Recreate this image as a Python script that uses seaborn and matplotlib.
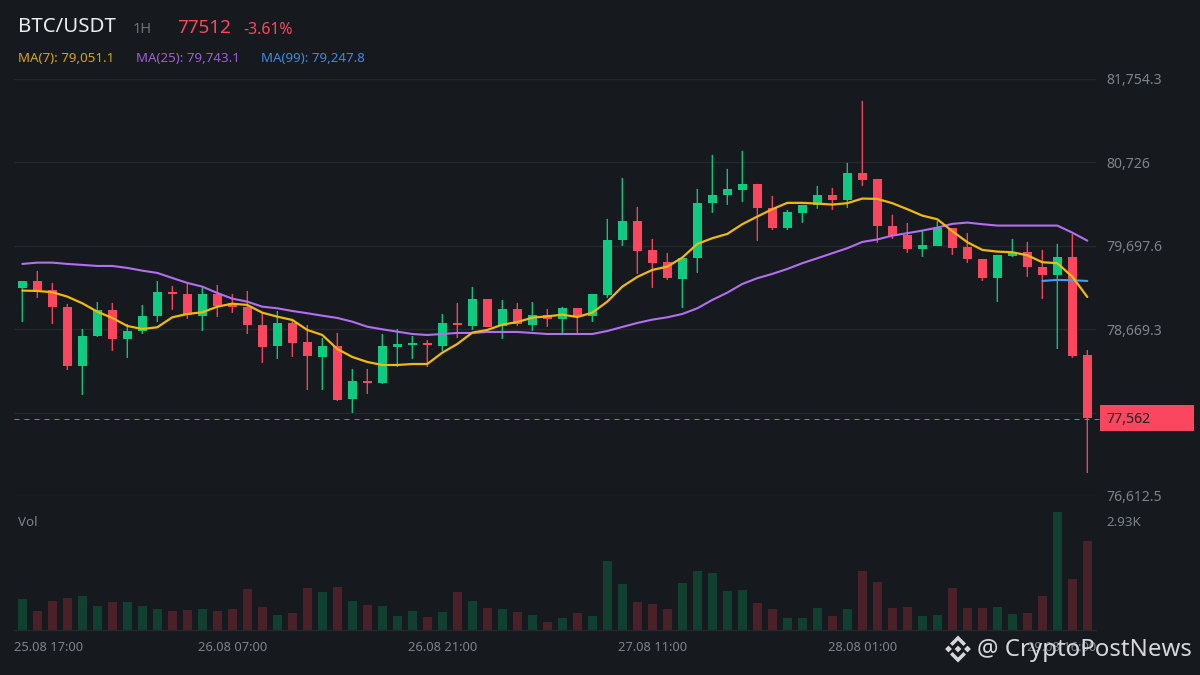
import numpy as np
import pandas as pd
import seaborn as sns
import matplotlib.pyplot as plt
from matplotlib.patches import Polygon
from matplotlib.transforms import ScaledTranslation

# candles, one per hour
opens = [79178, 79264, 79153, 78944, 78216, 78586, 78907, 78549, 78647, 78833, 79129, 79104,
         78833, 79104, 78993, 78944, 78721, 78462, 78746, 78512, 78327, 78462, 77809, 78031,
         78006, 78450, 78475, 78500, 78462, 78746, 78709, 79042, 78709, 78919, 78721, 78845,
         78796, 78931, 78833, 79092, 79770, 80004, 79647, 79499, 79289, 79548, 80227, 80325,
         80387, 80461, 80165, 79918, 80103, 80202, 80325, 80264, 80597, 80523, 79943, 79832,
         79659, 79696, 79918, 79684, 79536, 79301, 79573, 79622, 79437, 79338, 79560, 78352]
highs = [79264, 79388, 79240, 78981, 78672, 79005, 78993, 78734, 78968, 79264, 79203, 79227,
         79178, 79215, 79104, 79141, 78870, 78894, 78796, 78721, 78561, 78623, 78179, 78179,
         78610, 78672, 78586, 78536, 78857, 78993, 79190, 79042, 79030, 78993, 79005, 78919,
         78944, 78931, 79104, 80029, 80535, 80177, 79782, 79610, 79548, 80399, 80819, 80646,
         80868, 80461, 80313, 80140, 80202, 80436, 80412, 80720, 81485, 80523, 80079, 79980,
         79893, 80004, 79918, 79856, 79536, 79585, 79782, 79745, 79647, 79721, 79844, 78413]
lows = [78758, 79055, 78734, 78166, 77858, 78574, 78401, 78314, 78610, 78758, 78907, 78796,
        78647, 78820, 78870, 78610, 78253, 78302, 78327, 77920, 77920, 77784, 77636, 77870,
        77994, 78203, 78302, 78203, 78401, 78561, 78660, 78697, 78549, 78709, 78647, 78697,
        78623, 78623, 78758, 79055, 79696, 79351, 79178, 79277, 78931, 79363, 80103, 80202,
        80239, 79758, 79893, 79893, 79980, 80153, 80140, 80165, 80436, 79733, 79782, 79610,
        79560, 79696, 79585, 79486, 79264, 79005, 79560, 79314, 79042, 78425, 78314, 76896]
closes = [79264, 79153, 78944, 78216, 78586, 78907, 78549, 78647, 78833, 79129, 79104, 78845,
          79104, 78956, 78944, 78721, 78450, 78746, 78500, 78339, 78462, 77796, 78031, 78006,
          78462, 78487, 78500, 78475, 78746, 78721, 79042, 78697, 78919, 78734, 78845, 78796,
          78931, 78833, 79104, 79770, 80004, 79634, 79486, 79301, 79548, 80227, 80325, 80399,
          80461, 80165, 79918, 80116, 80202, 80325, 80264, 80597, 80510, 79943, 79819, 79659,
          79708, 79918, 79671, 79536, 79301, 79585, 79622, 79437, 79338, 79560, 78339, 77574]

ma7 = [79145, 79141, 79125, 79071, 78989, 78885, 78808, 78709, 78672, 78693, 78816, 78857,
       78878, 78947, 78984, 78968, 78873, 78824, 78783, 78660, 78598, 78425, 78327, 78265,
       78228, 78228, 78240, 78240, 78380, 78487, 78627, 78660, 78725, 78758, 78811, 78828,
       78848, 78820, 78873, 79009, 79194, 79314, 79400, 79441, 79552, 79721, 79791, 79844,
       79964, 80058, 80149, 80227, 80227, 80218, 80206, 80223, 80280, 80276, 80223, 80149,
       80070, 80025, 79878, 79742, 79647, 79626, 79618, 79581, 79495, 79483, 79317, 79067]
ma25 = [79474, 79490, 79490, 79474, 79462, 79449, 79449, 79425, 79391, 79363, 79301, 79240,
        79194, 79116, 79046, 79009, 78947, 78927, 78894, 78866, 78836, 78808, 78762, 78700,
        78668, 78639, 78610, 78598, 78610, 78623, 78623, 78635, 78635, 78635, 78623, 78610,
        78610, 78610, 78610, 78647, 78697, 78746, 78787, 78816, 78857, 78927, 79030, 79120,
        79227, 79298, 79351, 79412, 79483, 79544, 79606, 79668, 79745, 79776, 79823, 79853,
        79885, 79922, 79968, 79984, 79964, 79947, 79947, 79947, 79947, 79947, 79860, 79761]
ma99 = [79264, 79277, 79273, 79264]

volumes = [845, 521, 791, 872, 926, 656, 764, 764, 656, 575, 521, 548,
           575, 521, 575, 1115, 629, 413, 467, 1142, 1034, 1169, 791, 683,
           656, 386, 521, 359, 494, 1034, 791, 602, 575, 494, 413, 224,
           332, 467, 386, 1871, 1250, 764, 710, 575, 1277, 1601, 1547, 1061,
           1088, 737, 575, 332, 332, 602, 386, 575, 1601, 1304, 602, 629,
           386, 413, 1142, 602, 602, 629, 440, 467, 926, 3194, 1385, 2411]

price_ticks = [81754.3, 80726, 79697.6, 78669.3, 77640.9, 76612.5]
price_labels = ['81,754.3', '80,726', '79,697.6', '78,669.3', '', '76,612.5']
time_pos = [0, 14, 28, 42, 56, 70]
time_labels = ['25.08 17:00', '26.08 07:00', '26.08 21:00', '27.08 11:00', '28.08 01:00', '29.08 16:00']
last_price = 77562

BG = '#161a1e'
GRID = '#25282d'
GREEN = '#0ecb81'
RED = '#fb4660'
GRAY = '#7d838c'

sns.set_theme(style='dark', rc={'axes.facecolor': BG, 'figure.facecolor': BG})
plt.rcParams['font.family'] = ['Noto Sans', 'DejaVu Sans']

W, H = 1200, 675


def caixa(esq, topo, dir, baixo):
    return [esq / W, 1 - baixo / H, (dir - esq) / W, (baixo - topo) / H]


fig = plt.figure(figsize=(12, 6.75), dpi=100)
ax = fig.add_axes(caixa(14, 79, 1096, 496))
ax_vol = fig.add_axes(caixa(14, 505, 1096, 630))

dados = pd.DataFrame({'hora': np.arange(len(opens)), 'o': opens, 'h': highs, 'l': lows,
                      'c': closes, 'vol': volumes})
dados['lado'] = np.where(dados['c'] >= dados['o'], 'alta', 'baixa')
cores = dados['lado'].map({'alta': GREEN, 'baixa': RED})
xlim = (-0.553, 71.58)

# candles: pavio um pouco mais largo que 1 pixel, sem snap, para manter a cor
ax.vlines(dados['hora'], dados['l'], dados['h'], colors=cores, linewidth=0.95, snap=False, zorder=2)
ax.bar(dados['hora'], (dados['c'] - dados['o']).abs(), bottom=dados[['o', 'c']].min(axis=1),
       width=0.6, color=cores, linewidth=0, zorder=3)

# medias moveis
sns.lineplot(x=dados['hora'], y=ma25, color='#b36ef2', linewidth=1.5, ax=ax, zorder=4)
sns.lineplot(x=dados['hora'][-len(ma99):], y=ma99, color='#4a9cf0', linewidth=1.5, ax=ax, zorder=4)
sns.lineplot(x=dados['hora'], y=ma7, color='#f0b90b', linewidth=1.6, ax=ax, zorder=5)

ax.axhline(last_price, xmax=1.004, color=RED, linewidth=0.72, dashes=(5, 5),
           snap=True, clip_on=False, zorder=1)

ax.set_xlim(xlim)
ax.set_ylim(76612.5, 81754.3)
ax.set_xticks([])
ax.set_xlabel('')
ax.set_ylabel('')
ax.yaxis.tick_right()
ax.set_yticks(price_ticks)
ax.set_yticklabels(price_labels)
ax.tick_params(axis='y', length=0, pad=7.2, labelsize=10.1, labelcolor=GRAY)
ax.grid(axis='y', color=GRID, linewidth=1)
ax.set_axisbelow(True)
sns.despine(ax=ax, left=True, bottom=True, right=True, top=True)

# volume
sns.barplot(data=dados, x='hora', y='vol', hue='lado', hue_order=['alta', 'baixa'],
            palette={'alta': '#113f30', 'baixa': '#4a2029'}, dodge=False, width=0.6,
            native_scale=True, saturation=1, legend=False, linewidth=0, edgecolor='none', ax=ax_vol)
ax_vol.set_xlim(xlim)
ax_vol.set_ylim(0, 3375)
ax_vol.set_xlabel('')
ax_vol.set_ylabel('')
ax_vol.yaxis.tick_right()
ax_vol.set_yticks([2930])
ax_vol.set_yticklabels(['2.93K'])
ax_vol.set_xticks(time_pos)
ax_vol.set_xticklabels(time_labels)
ax_vol.tick_params(axis='y', length=0, pad=7.2, labelsize=9.6, labelcolor=GRAY)
ax_vol.tick_params(axis='x', length=0, pad=8, labelsize=9.3, labelcolor=GRAY)

# primeiro e ultimo rotulo ficam presos nas bordas do grafico
rotulos = ax_vol.get_xticklabels()
rotulos[0].set_ha('left')
rotulos[0].set_transform(rotulos[0].get_transform() + ScaledTranslation(-8 / 100, 0, fig.dpi_scale_trans))
rotulos[-1].set_ha('right')
rotulos[-1].set_transform(rotulos[-1].get_transform() + ScaledTranslation(24 / 100, 0, fig.dpi_scale_trans))
ax_vol.grid(False)
sns.despine(ax=ax_vol, left=True, right=True, top=True)
ax_vol.spines['bottom'].set_color(GRID)
ax_vol.spines['bottom'].set_linewidth(1)

# camada de cima em pixels, para cabecalho e marca d'agua
topo = fig.add_axes([0, 0, 1, 1])
topo.set_xlim(0, W)
topo.set_ylim(H, 0)
topo.axis('off')
topo.patch.set_alpha(0)

topo.text(18, 27, 'BTC/USDT', color='#eaecef', fontsize=14.7, va='center')
topo.text(133, 29.5, '1H', color='#6b7078', fontsize=10.5, va='center')
topo.text(177, 28, '77512', color=RED, fontsize=13.6, va='center')
topo.text(243, 29.5, '-3.61%', color=RED, fontsize=11.4, va='center')
topo.text(18, 58, 'MA(7): 79,051.1', color='#d9a50c', fontsize=9.6, va='center')
topo.text(136, 58, 'MA(25): 79,743.1', color='#9a5fd6', fontsize=9.6, va='center')
topo.text(261, 58, 'MA(99): 79,247.8', color='#4189dc', fontsize=9.6, va='center')
topo.text(18, 522.5, 'Vol', color=GRAY, fontsize=9.6, va='center')

# etiqueta do ultimo preco
topo.add_patch(plt.Rectangle((1100, 405), 94, 26, color=RED, linewidth=0))
topo.text(1106, 419.5, '77,562', color='#1c1f24', fontsize=10.1, va='center')

# logo e marca d'agua
LOGO = '#d5d7da'
cx, cy = 958, 649
for dx, dy, r in [(0, 0, 3.4), (-9.5, 0, 3.4), (9.5, 0, 3.4)]:
    topo.add_patch(Polygon([(cx + dx - r, cy + dy), (cx + dx, cy + dy - r),
                            (cx + dx + r, cy + dy), (cx + dx, cy + dy + r)], color=LOGO, linewidth=0))
for s in (-1, 1):
    topo.add_patch(Polygon([(cx - 8, cy + s * 5.5), (cx, cy + s * 13.5), (cx + 8, cy + s * 5.5),
                            (cx + 5.5, cy + s * 3), (cx, cy + s * 8.5), (cx - 5.5, cy + s * 3)],
                           color=LOGO, linewidth=0))
topo.text(977, 650, '@ CryptoPostNews', color=LOGO, fontsize=17.3, va='center')

fig.savefig('out.png', dpi=100, facecolor=BG)
